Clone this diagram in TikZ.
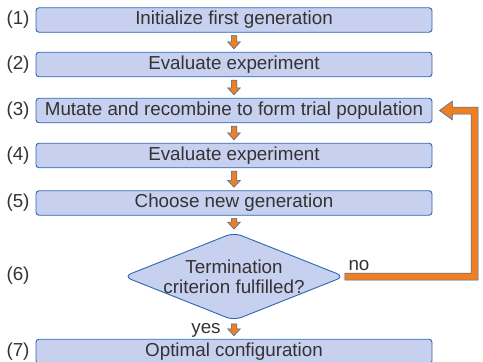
\documentclass[tikz,border=0pt]{standalone}
\usepackage{fontspec}
\setmainfont{Liberation Sans}
\usetikzlibrary{shapes.geometric,calc}

\definecolor{boxfill}{HTML}{C7D0EE}
\definecolor{boxline}{HTML}{2E67B1}
\definecolor{floworange}{HTML}{EE7F22}
\definecolor{txtgray}{HTML}{333333}

\tikzset{
  flowfont/.style={text=txtgray, font=\fontsize{18.8}{20}\selectfont},
  stepbox/.style={flowfont, draw=boxline, fill=boxfill, line width=0.9pt,
    rounded corners=3pt, minimum width=396pt, minimum height=24.5pt, inner sep=0pt},
  decision/.style={diamond, draw=boxline, fill=boxfill, line width=0.9pt,
    rounded corners=8pt, minimum width=221pt, minimum height=88pt, inner sep=0pt},
  steplabel/.style={flowfont, inner sep=0pt},
  flowarrow/.style={draw=boxline, fill=floworange, line width=0.5pt,
    to path={($(\tikztostart)+(-2.75pt,-3pt)$) -- ($(\tikztotarget)+(-2.75pt,10pt)$)
      -- ($(\tikztotarget)+(-6.5pt,10pt)$) -- ($(\tikztotarget)+(0pt,3pt)$)
      -- ($(\tikztotarget)+(6.5pt,10pt)$) -- ($(\tikztotarget)+(2.75pt,10pt)$)
      -- ($(\tikztostart)+(2.75pt,-3pt)$) -- cycle}},
  loopback/.style={draw=boxline, fill=floworange, line width=0.5pt}
}

\begin{document}
\begin{tikzpicture}[x=1pt, y=-1pt]
\useasboundingbox (0,0) rectangle (483,362);

% steps
\node[stepbox] (b1) at (234,20) {Initialize first generation};
\node[stepbox] (b2) at (234,64.5) {Evaluate experiment};
\node[stepbox] (b3) at (234,110.5) {Mutate and recombine to form trial population};
\node[stepbox] (b4) at (234,155.5) {Evaluate experiment};
\node[stepbox] (b5) at (234,203) {Choose new generation};
\node[decision, label={[flowfont, align=center]center:Termination\\criterion fulfilled?}] (dia) at (234,276.5) {};
\node[stepbox] (b7) at (234,351.5) {Optimal configuration};

% numbers
\node[steplabel] (n1) at (18,20) {(1)};
\node[steplabel] (n2) at (18,64.5) {(2)};
\node[steplabel] (n3) at (18,110.5) {(3)};
\node[steplabel] (n4) at (18,155.5) {(4)};
\node[steplabel] (n5) at (18,203) {(5)};
\node[steplabel] (n6) at (18,275.5) {(6)};
\node[steplabel] (n7) at (18,351.5) {(7)};

\node[steplabel] (no) at (359,266) {no};
\node[steplabel] (yes) at (206,330) {yes};

% arrows
\draw[flowarrow] (b1.south) to (b2.north);
\draw[flowarrow] (b2.south) to (b3.north);
\draw[flowarrow] (b3.south) to (b4.north);
\draw[flowarrow] (b4.south) to (b5.north);
\draw[flowarrow] (b5.south) to (dia.north);
\draw[flowarrow] (dia.south) to (b7.north);

\coordinate (corner) at (474.5,0);
\draw[loopback] ($(dia.east)+(0pt,3.5pt)$) -- ($(dia.east -| corner)+(-3.5pt,3.5pt)$)
  -- ($(b3.east -| corner)+(-3.5pt,-3.5pt)$) -- ($(b3.east)+(20pt,-3.5pt)$)
  -- ($(b3.east)+(20pt,-9.5pt)$) -- ($(b3.east)+(7pt,0pt)$)
  -- ($(b3.east)+(20pt,9.5pt)$) -- ($(b3.east)+(20pt,3.5pt)$)
  -- ($(b3.east -| corner)+(3.5pt,3.5pt)$) -- ($(dia.east -| corner)+(3.5pt,-3.5pt)$)
  -- ($(dia.east)+(0pt,-3.5pt)$) -- cycle;

\end{tikzpicture}
\end{document}
